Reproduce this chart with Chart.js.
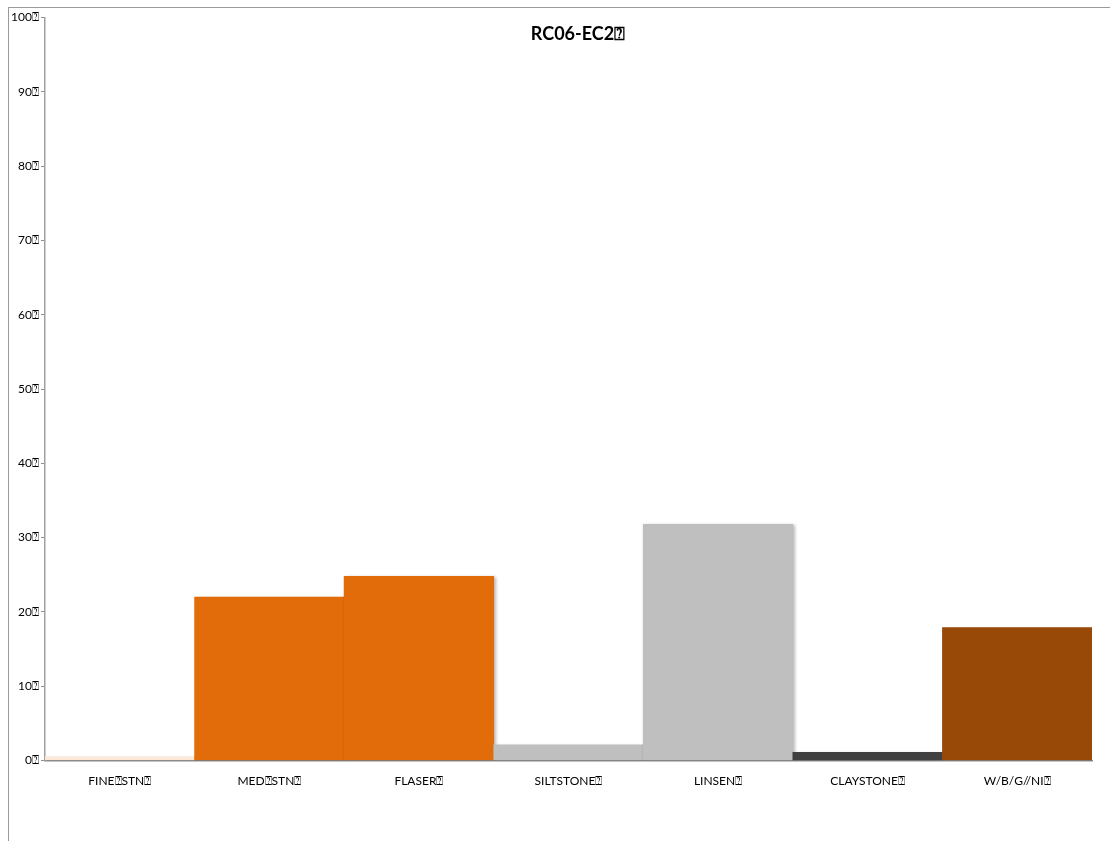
<!DOCTYPE html>
<html>
<head>
<meta charset="utf-8">
<script src="https://cdn.jsdelivr.net/npm/chart.js@4/dist/chart.umd.min.js"></script>
<style>
  body { margin: 0; background: #fff; }
  #frame { position: absolute; left: 8px; top: 7px; width: 1200px; height: 900px; border: 1px solid #9a9a9a; }
  #wrap { position: absolute; left: 0; top: 0; width: 1110px; height: 841px; }
</style>
</head>
<body>
<div id="frame"></div>
<div id="wrap"><canvas id="graph"></canvas></div>
<script>
// tofu box glyph, as in the source picture
const Q = '\u2370';

const categories = ['FINE' + Q + 'STN' + Q, 'MED' + Q + 'STN' + Q, 'FLASER' + Q, 'SILTSTONE' + Q, 'LINSEN' + Q, 'CLAYSTONE' + Q, 'W/B/G//NI' + Q];
const values = [0.5, 22.0, 24.8, 2.1, 31.8, 1.1, 17.9];
const barColors = ['#FDE9D9', '#E36C0A', '#E36C0A', '#BFBFBF', '#BFBFBF', '#404040', '#984807'];
const yTicks = [0, 10, 20, 30, 40, 50, 60, 70, 80, 90, 100];
const title = 'RC06-EC2' + Q;

const font = "Lato, 'Open Sans', sans-serif";

const shadow = {
  id: 'shadow',
  beforeDatasetsDraw(chart) {
    const ctx = chart.ctx;
    ctx.save();
    ctx.shadowColor = 'rgba(0,0,0,0.28)';
    ctx.shadowBlur = 3;
    ctx.shadowOffsetX = 1.5;
    ctx.shadowOffsetY = 1.5;
  },
  afterDatasetsDraw(chart) {
    chart.ctx.restore();
  }
};

const titleText = {
  id: 'titleText',
  afterDraw(chart) {
    const ctx = chart.ctx;
    ctx.save();
    ctx.font = 'bold 18px ' + font;
    ctx.fillStyle = '#000';
    ctx.textAlign = 'center';
    ctx.textBaseline = 'middle';
    ctx.fillText(title, 578, 34);
    ctx.restore();
  }
};

let graph = document.getElementById('graph').getContext('2d');

new Chart(graph, {
  type: 'bar',
  data: {
    labels: categories,
    datasets: [{
      data: values,
      backgroundColor: barColors,
      borderWidth: 0,
      barPercentage: 1,
      categoryPercentage: 1
    }]
  },
  options: {
    responsive: true,
    maintainAspectRatio: false,
    animation: false,
    layout: { padding: { left: 0, top: 17.5, right: 18, bottom: 0 } },
    plugins: {
      legend: { display: false },
      tooltip: { enabled: false }
    },
    scales: {
      x: {
        grid: { display: false, drawTicks: false },
        border: { color: '#8c8c8c', width: 1.5 },
        ticks: { color: '#000', font: { family: font, size: 12 }, padding: 13, maxRotation: 0, autoSkip: false },
        afterFit(scale) { scale.height = 80.5; }
      },
      y: {
        min: 0,
        max: 100,
        afterBuildTicks(scale) { scale.ticks = yTicks.map(v => ({ value: v })); },
        grid: { drawOnChartArea: false, tickLength: 4, tickColor: '#8c8c8c' },
        border: { color: '#a0a0a0', width: 1.5 },
        ticks: {
          color: '#000',
          font: { family: font, size: 12 },
          padding: 2,
          callback: v => v + Q
        },
        afterFit(scale) { scale.width = 45; }
      }
    }
  },
  plugins: [shadow, titleText]
});
</script>
</body>
</html>
